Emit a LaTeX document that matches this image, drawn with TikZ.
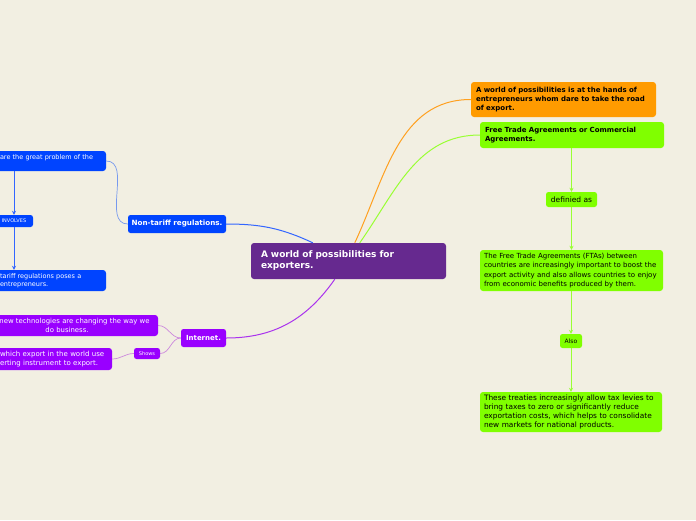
\documentclass[tikz,border=0pt]{standalone}
\usepackage{fontspec}
\setmainfont{DejaVu Sans}
\usetikzlibrary{calc,arrows.meta}
\definecolor{bg}{HTML}{F2EFE2}
\definecolor{cpurple}{HTML}{66298F}
\definecolor{corange}{HTML}{FF9B00}
\definecolor{cgreen}{HTML}{80FF00}
\definecolor{cblue}{HTML}{0044FF}
\definecolor{cviolet}{HTML}{9900FF}
\definecolor{lblue}{HTML}{3366FF}
\definecolor{tblue}{HTML}{7799EE}
\definecolor{lorange}{HTML}{FFA020}
\definecolor{lgreen}{HTML}{99FF33}
\definecolor{lviolet}{HTML}{AA33EE}
\definecolor{tviolet}{HTML}{CC88DD}
\tikzset{
  mm/.style={rounded corners=3pt, inner ysep=0pt, align=left},
  mmc/.style={rounded corners=2.5pt, inner ysep=0pt, inner xsep=2pt, align=center},
  small/.style={font=\fontsize{6.5}{8.5}\selectfont},
  smallp/.style={font=\fontsize{6.9}{8.7}\selectfont},
  smallb/.style={font=\fontsize{7}{9}\selectfont\bfseries},
  body/.style={font=\fontsize{7}{9.2}\selectfont},
  conn/.style={line width=1pt},
  thin/.style={line width=0.7pt},
  arr/.style={line width=0.8pt, -{Stealth[length=4pt,width=4pt]}},
}
\begin{document}
\begin{tikzpicture}[x=1pt,y=-1pt]
\useasboundingbox (0,0) rectangle (696,520);
\fill[bg] (0,0) rectangle (696,520);
\clip (0,0) rectangle (696,520);

% nodes
\node[mm, fill=cpurple, text=white, text width=175pt, inner xsep=10pt, minimum height=36pt,
      font=\fontsize{9}{11}\selectfont\bfseries] (central) at (348.5,261) {A world of possibilities for\\exporters.};
\node[mm, smallb, fill=corange, text=black, text width=175pt, inner xsep=5pt, minimum height=35pt]
      (orange) at (563.5,99.5) {A world of possibilities is at the hands of\\entrepreneurs whom dare to take the road\\of export.};
\node[mm, smallb, fill=cgreen, text=black, text width=174pt, inner xsep=5pt, minimum height=26pt]
      (green1) at (572,135) {Free Trade Agreements or Commercial\\Agreements.};
\node[mmc, fill=cgreen, text=black, minimum width=51pt, minimum height=15pt,
      font=\fontsize{7.5}{9}\selectfont] (definied) at (571.5,199.5) {definied as};
\node[mm, body, fill=cgreen, text=black, text width=175pt, inner xsep=4pt, minimum height=41pt]
      (ftas) at (571.5,270.5) {The Free Trade Agreements (FTAs) between\\countries are increasingly important to boost the\\export activity and also allows countries to enjoy\\from economic benefits produced by them.};
\node[mmc, fill=cgreen, text=black, minimum width=22pt, minimum height=14pt,
      font=\fontsize{6}{7}\selectfont] (also) at (571,341) {Also};
\node[mm, fill=cgreen, text=black, text width=174pt, inner xsep=4pt, minimum height=40pt,
      font=\fontsize{7.4}{9.2}\selectfont]
      (treaties) at (571,412) {These treaties increasingly allow tax levies to\\bring taxes to zero or significantly reduce\\exportation costs, which helps to consolidate\\new markets for national products.};

\node[mmc, fill=cblue, text=white, minimum width=98pt, minimum height=18pt,
      font=\fontsize{7.2}{8}\selectfont\bfseries] (nontariff) at (177,224) {Non-tariff regulations.};
\node[mm, small, fill=cblue, text=white, text width=102pt, inner xsep=4pt, minimum height=20pt]
      (topblue) at (51,161) {are the great problem of the\\\mbox{}};
\node[mmc, fill=cblue, text=white, minimum width=38pt, minimum height=12pt,
      font=\fontsize{5}{6}\selectfont] (involves) at (14,221) {INVOLVES};
\node[mm, small, fill=cblue, text=white, text width=102pt, inner xsep=4pt, minimum height=21pt]
      (botblue) at (51,280.5) {tariff regulations poses a\\entrepreneurs.};

\node[mmc, fill=cviolet, text=white, minimum width=45pt, minimum height=18pt,
      font=\fontsize{7}{8}\selectfont\bfseries] (internet) at (203.5,338) {Internet.};
\node[mm, smallp, fill=cviolet, text=white, text width=174pt, inner xsep=4pt, minimum height=21pt, align=center]
      (purple1) at (67,325.5) {\hspace*{15pt}new technologies are changing the way we\\do business.};
\node[mmc, fill=cviolet, text=white, minimum width=26pt, minimum height=11pt,
      font=\fontsize{5}{6}\selectfont] (shows) at (147,353.5) {Shows};
\node[mm, font=\fontsize{7}{8.7}\selectfont, fill=cviolet, text=white, text width=108pt, inner xsep=4pt, minimum height=22pt]
      (purple2) at (54,359) {which export in the world use\\erting instrument to export.};

% connectors
\draw[conn, lblue] (nontariff.east) to[out=0, in=155] ($(central.north west)+(62,0)$);
\draw[conn, lorange] ($(central.north west)+(104,0)$) to[out=65, in=180] (orange.west);
\draw[conn, lgreen] ($(central.north west)+(109,0)$) to[out=55, in=180] (green1.west);
\draw[conn, lviolet] ($(central.south west)+(84,0)$) to[out=235, in=0] (internet.east);

\draw[thin, tblue] (nontariff.west) to[out=180, in=0] (topblue.east);
\draw[arr, lblue] (involves.north |- topblue.south) -- (involves.north);
\draw[arr, lblue] (involves.south) -- (involves.south |- botblue.north);

\draw[thin, tviolet] (internet.west) to[out=180, in=0] (purple1.east);
\draw[thin, tviolet] (internet.west) to[out=180, in=0] (shows.east);
\draw[thin, tviolet] (shows.west) to[out=180, in=0] (purple2.east);

\draw[arr, lgreen] (definied.north |- green1.south) -- (definied.north);
\draw[arr, lgreen] (definied.south) -- (definied.south |- ftas.north);
\draw[arr, lgreen] (also.north |- ftas.south) -- (also.north);
\draw[arr, lgreen] (also.south) -- (also.south |- treaties.north);
\end{tikzpicture}
\end{document}
